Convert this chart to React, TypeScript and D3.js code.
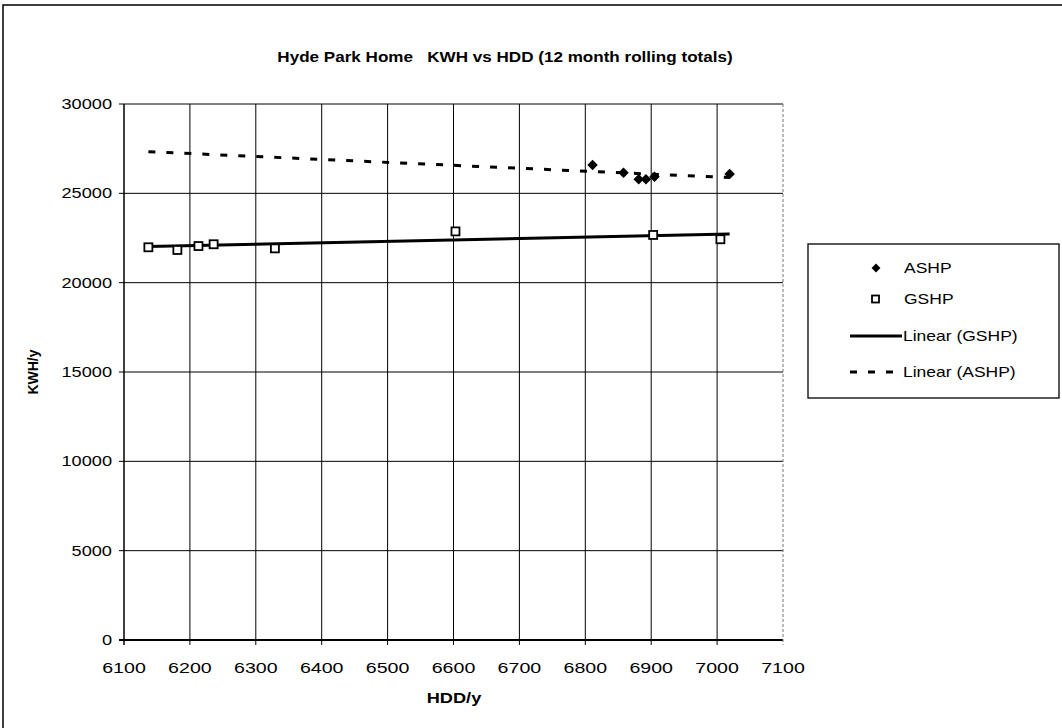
import React from "react";
import * as d3 from "d3";

const title = "Hyde Park Home   KWH vs HDD (12 month rolling totals)";
const xTicks = [6100, 6200, 6300, 6400, 6500, 6600, 6700, 6800, 6900, 7000, 7100];
const yTicks = [0, 5000, 10000, 15000, 20000, 25000, 30000];

const ashpHDD = [6811, 6858, 6881, 6892, 6905, 7019];
const ashpKWH = [26590, 26155, 25785, 25785, 25930, 26080];

const gshpHDD = [6137, 6181, 6213, 6236, 6329, 6603, 6903, 7005];
const gshpKWH = [21980, 21830, 22050, 22150, 21920, 22870, 22670, 22430];

// trend line end values, spanning combined HDD range
const gshpTrendKWH = [22020, 22720];
const ashpTrendKWH = [27330, 25880];

const legendLabels = ["ASHP", "GSHP", "Linear (GSHP)", "Linear (ASHP)"];

const W = 1062;
const H = 728;
const font = "'Liberation Sans', Arial, sans-serif";

function SText({
  x,
  y,
  sx,
  anchor,
  size,
  bold,
  children,
}: {
  x: number;
  y: number;
  sx: number;
  anchor: "start" | "middle" | "end";
  size: number;
  bold?: boolean;
  children: React.ReactNode;
}) {
  return (
    <text
      transform={`translate(${x},${y}) scale(${sx},1)`}
      textAnchor={anchor}
      fontSize={size}
      fontWeight={bold ? "bold" : "normal"}
      style={{ whiteSpace: "pre" }}
    >
      {children}
    </text>
  );
}

export default function App() {
  const x = d3.scaleLinear().domain([6100, 7100]).range([124, 783]);
  const y = d3.scaleLinear().domain([0, 30000]).range([640, 104]);
  const allX = [...ashpHDD, ...gshpHDD];
  const ext = d3.extent(allX) as [number, number];
  const line = d3
    .line<[number, number]>()
    .x((d) => x(d[0]))
    .y((d) => y(d[1]));
  const gTrend: [number, number][] = [
    [ext[0], gshpTrendKWH[0]],
    [ext[1], gshpTrendKWH[1]],
  ];
  const aTrend: [number, number][] = [
    [ext[0], ashpTrendKWH[0]],
    [ext[1], ashpTrendKWH[1]],
  ];
  const diamond = d3.symbol().type(d3.symbolDiamond2).size(70)() as string;
  const legDiamond = d3.symbol().type(d3.symbolDiamond2).size(50)() as string;
  const legY = [268, 299, 336, 372];

  return (
    <svg
      width={W}
      height={H}
      style={{ position: "absolute", left: 0, top: 0, background: "#fff" }}
      fontFamily={font}
    >
      <rect x={0} y={0} width={W} height={H} fill="#fff" />
      {/* outer border */}
      <rect x={3} y={5} width={W + 20} height={H + 20} fill="none" stroke="#000" strokeWidth={1.5} />
      <SText x={505} y={62} sx={1.22} anchor="middle" size={14} bold>
        {title}
      </SText>

      {/* gridlines */}
      {yTicks.map((t) => (
        <line key={"gy" + t} x1={x(6100) - 5} x2={x(7100)} y1={y(t)} y2={y(t)} stroke="#000" strokeWidth={t === 0 ? 1.8 : 1} />
      ))}
      {xTicks.map((t) => (
        <line
          key={"gx" + t}
          x1={x(t)}
          x2={x(t)}
          y1={y(30000)}
          y2={y(0) + 5}
          stroke={t === 7100 ? "#777" : "#000"}
          strokeDasharray={t === 7100 ? "3,2" : undefined}
          strokeWidth={t === 6100 ? 1.5 : 1}
        />
      ))}

      {/* tick labels */}
      {yTicks.map((t) => (
        <SText key={"ty" + t} x={112} y={y(t) + 5} sx={1.3} anchor="end" size={14}>
          {t}
        </SText>
      ))}
      {xTicks.map((t) => (
        <SText key={"tx" + t} x={x(t)} y={673} sx={1.4} anchor="middle" size={14}>
          {t}
        </SText>
      ))}
      <SText x={454} y={703} sx={1.3} anchor="middle" size={14} bold>
        HDD/y
      </SText>
      <text
        transform={`translate(38,${y(15000)}) rotate(-90)`}
        textAnchor="middle"
        fontSize={14}
        fontWeight="bold"
      >
        KWH/y
      </text>

      {/* trend lines */}
      <path d={line(gTrend) as string} fill="none" stroke="#000" strokeWidth={3} />
      <path d={line(aTrend) as string} fill="none" stroke="#000" strokeWidth={3} strokeDasharray="7,11" />

      {/* points */}
      {ashpHDD.map((h, i) => (
        <path key={"a" + i} d={diamond} transform={`translate(${x(h)},${y(ashpKWH[i])})`} fill="#000" />
      ))}
      {gshpHDD.map((h, i) => (
        <rect
          key={"g" + i}
          x={x(h) - 4}
          y={y(gshpKWH[i]) - 4}
          width={8}
          height={8}
          fill="#fff"
          stroke="#000"
          strokeWidth={1.8}
        />
      ))}

      {/* legend */}
      <rect x={808} y={244} width={251} height={154} fill="#fff" stroke="#000" strokeWidth={1.3} />
      <path d={legDiamond} transform={`translate(876,${legY[0]})`} fill="#000" />
      <rect x={872} y={legY[1] - 3.5} width={7} height={7} fill="#fff" stroke="#000" strokeWidth={1.8} />
      <line x1={850} x2={902} y1={legY[2]} y2={legY[2]} stroke="#000" strokeWidth={3} />
      <line x1={850} x2={902} y1={legY[3]} y2={legY[3]} stroke="#000" strokeWidth={3} strokeDasharray="7,11" />
      {legendLabels.map((l, i) => (
        <SText key={l} x={i < 2 ? 904 : 903} y={legY[i] + 5} sx={1.25} anchor="start" size={14}>
          {l}
        </SText>
      ))}
    </svg>
  );
}
